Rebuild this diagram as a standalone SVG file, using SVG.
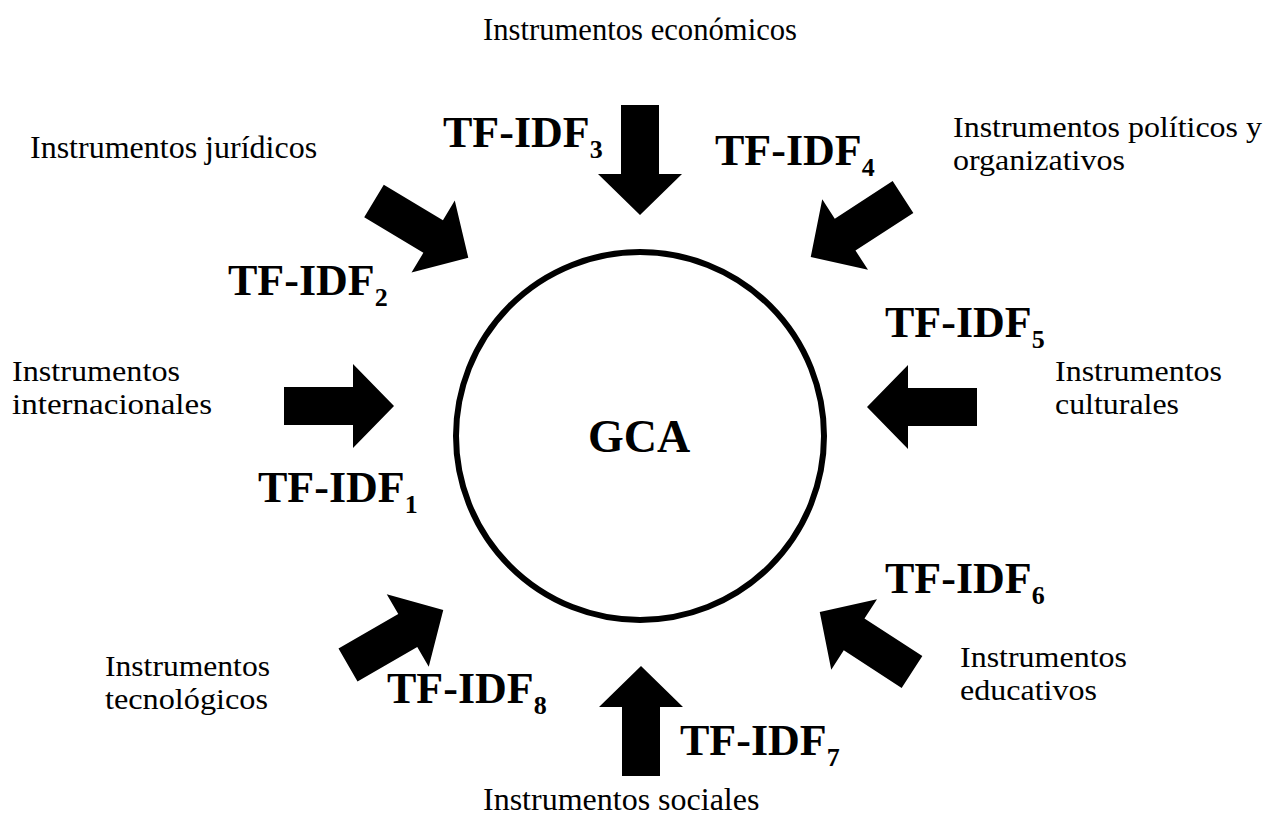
<svg xmlns="http://www.w3.org/2000/svg" xmlns:xlink="http://www.w3.org/1999/xlink" width="1266" height="834" viewBox="0 0 1266 834">
<style>
.lbl{font-family:"Liberation Serif","Times New Roman",serif;font-size:32px;fill:#000}
.l2{font-family:"Liberation Serif","Times New Roman",serif;font-size:29px;fill:#000}
.tf{font-family:"Liberation Serif","Times New Roman",serif;font-size:44px;font-weight:bold;fill:#000}
.sub{font-size:26px}
.gca{font-family:"Liberation Serif","Times New Roman",serif;font-size:46px;font-weight:bold;fill:#000}
</style>
<defs>
<path id="arr" d="M0,-19 L69,-19 L69,-42 L110,0 L69,42 L69,19 L0,19 Z" fill="#000"/>
</defs>
<rect width="1266" height="834" fill="#fff"/>
<g id="gca">
<circle cx="640" cy="436" r="184" fill="none" stroke="#000" stroke-width="6"/>
<text class="gca" x="639" y="452" text-anchor="middle">GCA</text>
</g>
<g id="connectors">
<use xlink:href="#arr" transform="translate(284,406)"/>
<use xlink:href="#arr" transform="translate(374,201) rotate(31)"/>
<use xlink:href="#arr" transform="translate(640,105) rotate(90)"/>
<use xlink:href="#arr" transform="translate(903,197) rotate(147)"/>
<use xlink:href="#arr" transform="translate(977,407) rotate(180)"/>
<use xlink:href="#arr" transform="translate(912,672) rotate(213)"/>
<use xlink:href="#arr" transform="translate(641,776) rotate(-90)"/>
<use xlink:href="#arr" transform="translate(348,665) rotate(-30)"/>
</g>
<g id="n1"><text class="l2" x="12" y="381" textLength="168" lengthAdjust="spacingAndGlyphs">Instrumentos</text><text class="l2" x="12" y="414" textLength="200" lengthAdjust="spacingAndGlyphs">internacionales</text><text class="tf" x="258" y="502">TF-IDF<tspan class="sub" dy="11">1</tspan></text></g>
<g id="n2"><text class="lbl" x="30" y="158">Instrumentos jurídicos</text><text class="tf" x="228" y="295">TF-IDF<tspan class="sub" dy="11">2</tspan></text></g>
<g id="n3"><text class="lbl" x="640" y="40" text-anchor="middle" textLength="314" lengthAdjust="spacingAndGlyphs">Instrumentos económicos</text><text class="tf" x="443" y="147">TF-IDF<tspan class="sub" dy="11">3</tspan></text></g>
<g id="n4"><text class="l2" x="953" y="137" textLength="309" lengthAdjust="spacingAndGlyphs">Instrumentos políticos y</text><text class="l2" x="953" y="170" textLength="172" lengthAdjust="spacingAndGlyphs">organizativos</text><text class="tf" x="715" y="165">TF-IDF<tspan class="sub" dy="11">4</tspan></text></g>
<g id="n5"><text class="l2" x="1055" y="381" textLength="167" lengthAdjust="spacingAndGlyphs">Instrumentos</text><text class="l2" x="1055" y="414" textLength="124" lengthAdjust="spacingAndGlyphs">culturales</text><text class="tf" x="885" y="337">TF-IDF<tspan class="sub" dy="11">5</tspan></text></g>
<g id="n6"><text class="l2" x="960" y="667" textLength="167" lengthAdjust="spacingAndGlyphs">Instrumentos</text><text class="l2" x="960" y="700" textLength="137" lengthAdjust="spacingAndGlyphs">educativos</text><text class="tf" x="885" y="593">TF-IDF<tspan class="sub" dy="11">6</tspan></text></g>
<g id="n7"><text class="lbl" x="483" y="810">Instrumentos sociales</text><text class="tf" x="680" y="755">TF-IDF<tspan class="sub" dy="11">7</tspan></text></g>
<g id="n8"><text class="l2" x="105" y="676" textLength="165" lengthAdjust="spacingAndGlyphs">Instrumentos</text><text class="l2" x="105" y="709" textLength="163" lengthAdjust="spacingAndGlyphs">tecnológicos</text><text class="tf" x="387" y="703">TF-IDF<tspan class="sub" dy="11">8</tspan></text></g>
</svg>
